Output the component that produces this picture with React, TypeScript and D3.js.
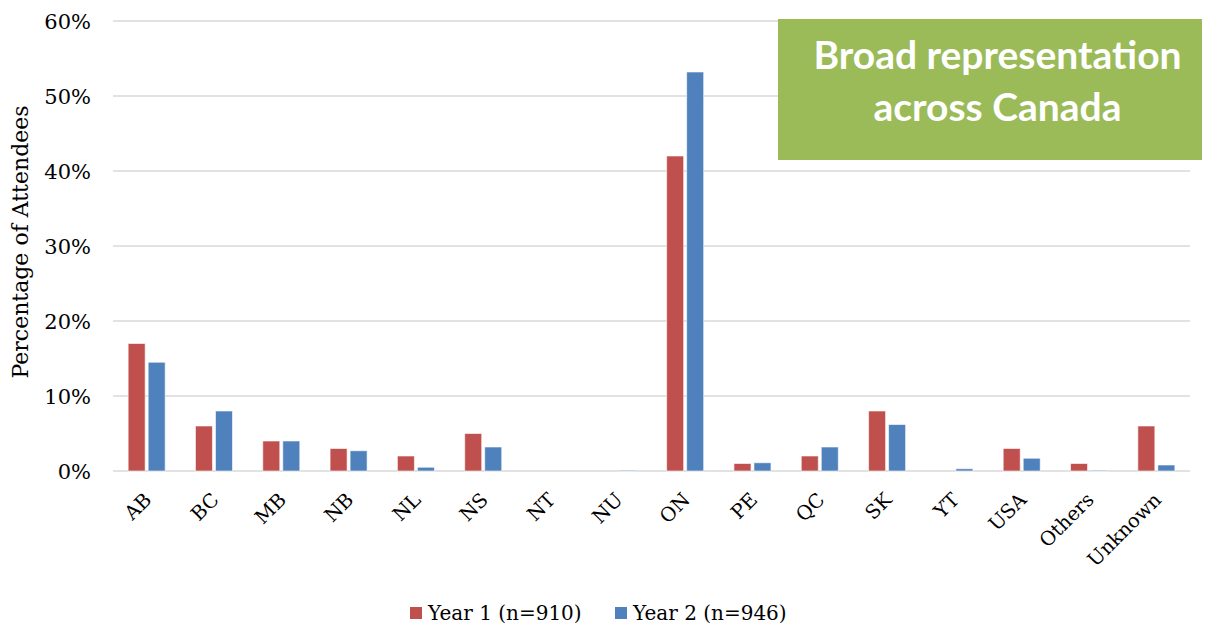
import React, { useEffect, useRef } from "react";
import * as d3 from "d3";

const categories = ["AB", "BC", "MB", "NB", "NL", "NS", "NT", "NU", "ON", "PE", "QC", "SK", "YT", "USA", "Others", "Unknown"];
const year1 = [17, 6, 4, 3, 2, 5, 0, 0, 42, 1, 2, 8, 0, 3, 1, 6];
const year2 = [14.5, 8, 4, 2.7, 0.5, 3.2, 0, 0.1, 53.2, 1.1, 3.2, 6.2, 0.3, 1.7, 0.1, 0.8];
const seriesNames = ["Year 1 (n=910)", "Year 2 (n=946)"];
const seriesColors = ["#C0504D", "#4F81BD"];
const yTicks = [0, 10, 20, 30, 40, 50, 60];

const W = 1214;
const H = 630;
const SERIF = "'DejaVu Serif', serif";

export default function App() {
  const ref = useRef<SVGSVGElement>(null);

  useEffect(() => {
    const svg = d3.select(ref.current);
    svg.selectAll("*").remove();

    const left = 113, right = 1190, top = 21, bottom = 471;
    const x = d3.scaleBand().domain(categories).range([left, right]).paddingInner(0.45).paddingOuter(0.225);
    const inner = d3.scaleBand().domain(["0", "1"]).range([0, x.bandwidth()]).paddingInner(0.15);
    const y = d3.scaleLinear().domain([0, 60]).range([bottom, top]);

    // gridlines
    svg.append("g")
      .selectAll("line")
      .data(yTicks)
      .join("line")
      .attr("x1", left)
      .attr("x2", right)
      .attr("y1", (d) => y(d))
      .attr("y2", (d) => y(d))
      .attr("stroke", "#D9D9D9")
      .attr("stroke-width", 1.5);

    // y tick labels
    svg.append("g")
      .selectAll("text")
      .data(yTicks)
      .join("text")
      .attr("x", 91)
      .attr("y", (d) => y(d))
      .attr("dy", "0.36em")
      .attr("text-anchor", "end")
      .attr("font-family", SERIF)
      .attr("font-size", 21)
      .attr("fill", "#000")
      .text((d) => `${d}%`);

    // axis title
    svg.append("text")
      .attr("transform", `translate(28, ${242}) rotate(-90)`)
      .attr("text-anchor", "middle")
      .attr("font-family", SERIF)
      .attr("font-size", 22)
      .attr("fill", "#000")
      .text("Percentage of Attendees");

    // bars
    const seriesData = [year1, year2];
    seriesData.forEach((vals, si) => {
      svg.append("g")
        .selectAll("rect")
        .data(vals)
        .join("rect")
        .attr("x", (_, i) => (x(categories[i]) as number) + (inner(String(si)) as number))
        .attr("y", (d) => y(d))
        .attr("width", inner.bandwidth())
        .attr("height", (d) => bottom - y(d))
        .attr("fill", seriesColors[si])
        .attr("stroke", "#ffffff")
        .attr("stroke-opacity", 0.6)
        .attr("stroke-width", 1);
    });

    // x labels, rotated
    svg.append("g")
      .selectAll("text")
      .data(categories)
      .join("text")
      .attr("transform", (d) => `translate(${(x(d) as number) + x.bandwidth() / 2 + 6}, 501) rotate(-45)`)
      .attr("text-anchor", "end")
      .attr("font-family", SERIF)
      .attr("font-size", 19.5)
      .attr("fill", "#000")
      .text((d) => d);

    // legend
    const legendX = [410, 615];
    seriesNames.forEach((name, i) => {
      svg.append("rect")
        .attr("x", legendX[i])
        .attr("y", 607)
        .attr("width", 12)
        .attr("height", 12)
        .attr("fill", seriesColors[i]);
      svg.append("text")
        .attr("x", legendX[i] + 18)
        .attr("y", 613)
        .attr("dy", "0.36em")
        .attr("font-family", SERIF)
        .attr("font-size", 20)
        .attr("fill", "#000")
        .text(name);
    });

    // callout box
    svg.append("rect")
      .attr("x", 778)
      .attr("y", 19)
      .attr("width", 424)
      .attr("height", 141)
      .attr("fill", "#9BBB59");
    ["Broad representation", "across Canada"].forEach((line, i) => {
      svg.append("text")
        .attr("x", 997.5)
        .attr("y", 69 + i * 52)
        .attr("text-anchor", "middle")
        .attr("font-family", "Lato, 'Open Sans', sans-serif")
        .attr("font-weight", 700)
        .attr("font-size", 39)
        .attr("fill", "#ffffff")
        .text(line);
    });
  }, []);

  return (
    <svg
      ref={ref}
      width={W}
      height={H}
      style={{ position: "absolute", left: 0, top: 0, background: "#fff" }}
    />
  );
}
